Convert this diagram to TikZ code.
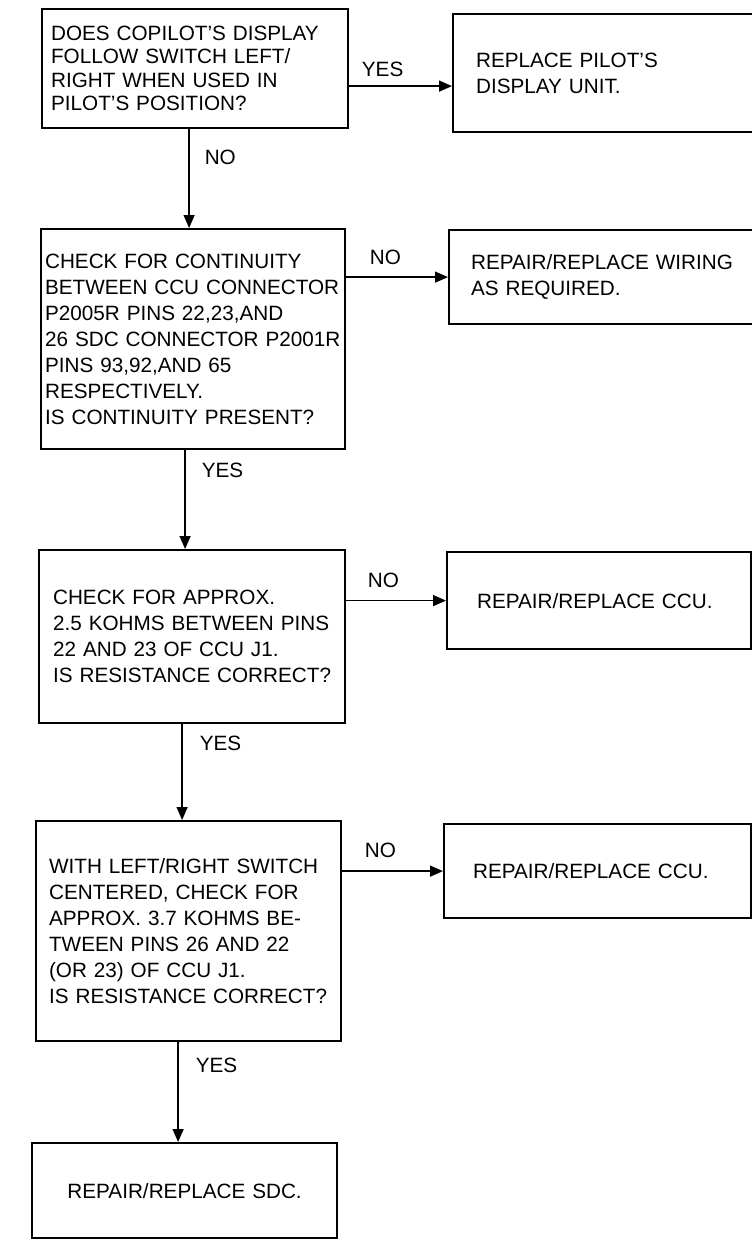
\documentclass[tikz,border=0pt]{standalone}
\usepackage{fontspec}
\setmainfont{Liberation Sans}
\usetikzlibrary{arrows.meta}

\begin{document}
\begin{tikzpicture}[x=1pt,y=1pt,>={Triangle[length=13pt,width=11pt]},
  bx/.style={draw,line width=2.2pt,anchor=north west,align=left,inner ysep=0pt,font=\fontsize{20.7pt}{26pt}\selectfont},
  lab/.style={font=\fontsize{20.7pt}{26pt}\selectfont,inner sep=0pt},
  arr/.style={->,line width=1.4pt}]
\useasboundingbox (0,0) rectangle (752,-1242);
% questions, left column
\node[bx,minimum width=306pt,minimum height=119pt,inner xsep=9pt,text width=288pt,font=\fontsize{20.7pt}{23.5pt}\selectfont] (q1) at (41,-8) {DOES COPILOT'S DISPLAY\\FOLLOW SWITCH LEFT/\\RIGHT WHEN USED IN\\PILOT'S POSITION?};
\node[bx,minimum width=304pt,minimum height=220pt,inner xsep=4pt,text width=296pt] (q2) at (40,-228) {CHECK FOR CONTINUITY\\BETWEEN CCU CONNECTOR\\P2005R PINS 22,23,AND\\26 SDC CONNECTOR P2001R\\PINS 93,92,AND 65\\RESPECTIVELY.\\IS CONTINUITY PRESENT?};
\node[bx,minimum width=306pt,minimum height=173pt,inner xsep=14pt,text width=278pt] (q3) at (38,-549) {CHECK FOR APPROX.\\2.5 KOHMS BETWEEN PINS\\22 AND 23 OF CCU J1.\\IS RESISTANCE CORRECT?};
\node[bx,minimum width=305pt,minimum height=220pt,inner xsep=13pt,text width=279pt] (q4) at (35,-820) {WITH LEFT/RIGHT SWITCH\\CENTERED, CHECK FOR\\APPROX. 3.7 KOHMS BE-\\TWEEN PINS 26 AND 22\\(OR 23) OF CCU J1.\\IS RESISTANCE CORRECT?};
\node[bx,align=center,minimum width=305pt,minimum height=95pt,inner xsep=10pt,text width=285pt] (q5) at (31,-1142) {REPAIR/REPLACE SDC.};
% actions, right column
\node[bx,minimum width=308pt,minimum height=118pt,inner xsep=23pt,text width=262pt] (r1) at (452,-13) {REPLACE PILOT'S\\DISPLAY UNIT.};
\node[bx,minimum width=312pt,minimum height=94pt,inner xsep=22pt,text width=268pt] (r2) at (448,-229) {REPAIR/REPLACE WIRING\\AS REQUIRED.};
\node[bx,minimum width=304pt,minimum height=97pt,inner xsep=30pt,text width=244pt] (r3) at (446,-551) {REPAIR/REPLACE CCU.};
\node[bx,minimum width=307pt,minimum height=94pt,inner xsep=29pt,text width=249pt] (r4) at (443,-823) {REPAIR/REPLACE CCU.};
% yes/no branches
\draw[arr] ([yshift=-13pt]r1.west -| q1.east) -- ([yshift=-13pt]r1.west) node[lab,at start,anchor=base west,xshift=12pt,yshift=10pt] {YES};
\draw[arr] (r2.west -| q2.east) -- (r2.west) node[lab,at start,anchor=base west,xshift=23pt,yshift=12.5pt] {NO};
\draw[arr] (r3.west -| q3.east) -- (r3.west) node[lab,at start,anchor=base west,xshift=21pt,yshift=13pt] {NO};
\draw[arr] (r4.west -| q4.east) -- (r4.west) node[lab,at start,anchor=base west,xshift=22pt,yshift=13.5pt] {NO};
\draw[arr] ([xshift=-6pt]q1.south) -- ([xshift=-6pt]q1.south |- q2.north) node[lab,at start,anchor=base west,xshift=15pt,yshift=-35pt] {NO};
\draw[arr] ([xshift=-8pt]q2.south) -- ([xshift=-8pt]q2.south |- q3.north) node[lab,at start,anchor=base west,xshift=16pt,yshift=-27.5pt] {YES};
\draw[arr] ([xshift=-10pt]q3.south) -- ([xshift=-10pt]q3.south |- q4.north) node[lab,at start,anchor=base west,xshift=17pt,yshift=-26.5pt] {YES};
\draw[arr] ([xshift=-10.5pt]q4.south) -- ([xshift=-10.5pt]q4.south |- q5.north) node[lab,at start,anchor=base west,xshift=17pt,yshift=-30.5pt] {YES};
\end{tikzpicture}
\end{document}
